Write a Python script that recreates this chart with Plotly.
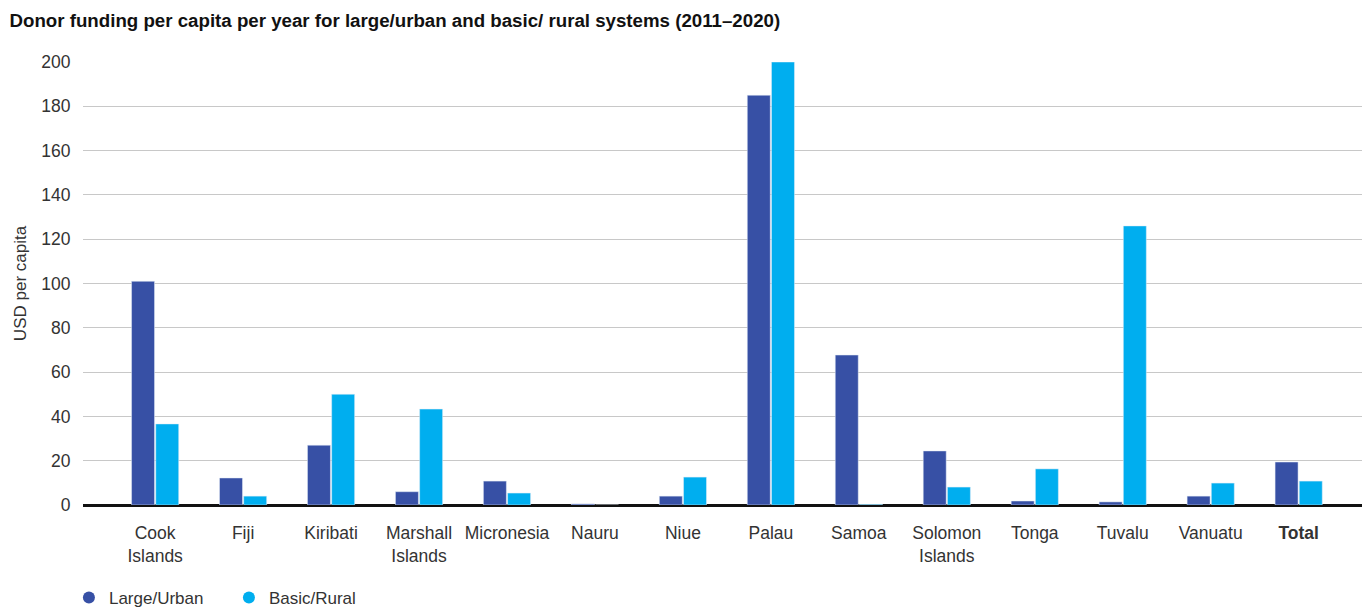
import plotly.graph_objects as go

categories = ["Cook<br>Islands", "Fiji", "Kiribati", "Marshall<br>Islands", "Micronesia", "Nauru",
              "Niue", "Palau", "Samoa", "Solomon<br>Islands", "Tonga", "Tuvalu", "Vanuatu", "<b>Total</b>"]
large_urban = [101, 12.2, 27, 6, 10.8, 0.5, 4, 185, 67.7, 24.4, 1.8, 1.4, 4, 19.4]
basic_rural = [36.6, 4, 50, 43.3, 5.4, 0, 12.6, 200, 0.3, 8.1, 16.3, 126, 9.9, 10.8]
y_ticks = [0, 20, 40, 60, 80, 100, 120, 140, 160, 180, 200]

c_large = "#3750A5"
c_basic = "#00AEEF"
font = "Liberation Sans, Arial, sans-serif"

fig = go.Figure()
fig.add_bar(x=categories, y=large_urban, name="Large/Urban", marker_color=c_large, showlegend=False)
fig.add_bar(x=categories, y=basic_rural, name="Basic/Rural", marker_color=c_basic, showlegend=False)
# legend entries with circle markers
fig.add_scatter(x=[None], y=[None], mode="markers", name="Large/Urban",
                marker=dict(symbol="circle", size=12, color=c_large))
fig.add_scatter(x=[None], y=[None], mode="markers", name="Basic/Rural",
                marker=dict(symbol="circle", size=12, color=c_basic))

fig.update_layout(
    width=1362, height=607,
    paper_bgcolor="white", plot_bgcolor="white",
    margin=dict(l=83, r=0, t=62, b=102, autoexpand=False),
    barmode="group", bargap=0.45, bargroupgap=0.05,
    font=dict(family=font, size=17.5, color="#333333"),
    title=dict(text="<b>Donor funding per capita per year for large/urban and basic/ rural systems (2011–2020)</b>",
               x=0.007, xanchor="left", y=0.967, yanchor="middle",
               font=dict(family=font, size=18.7, color="#111111")),
    legend=dict(orientation="h", x=-0.011, xanchor="left", y=-0.21, yanchor="middle",
                font=dict(size=17, color="#333333"), itemwidth=30, traceorder="normal",
                entrywidthmode="pixels", entrywidth=115),
    xaxis=dict(type="category", range=[-0.82, 13.72], showgrid=False,
               ticks="outside", ticklen=12, tickcolor="rgba(0,0,0,0)",
               showline=False, zeroline=False, tickfont=dict(size=17.5, color="#333333")),
    yaxis=dict(range=[0, 200], tickvals=y_ticks, showgrid=True, gridcolor="#c8c8c8", gridwidth=1,
               zeroline=True, zerolinecolor="#111111", zerolinewidth=3,
               ticks="outside", ticklen=8, tickcolor="rgba(0,0,0,0)",
               tickfont=dict(size=17.5, color="#333333"),
               title=dict(text="USD per capita", standoff=10, font=dict(size=17, color="#333333"))),
)

fig.write_html("out.html")
